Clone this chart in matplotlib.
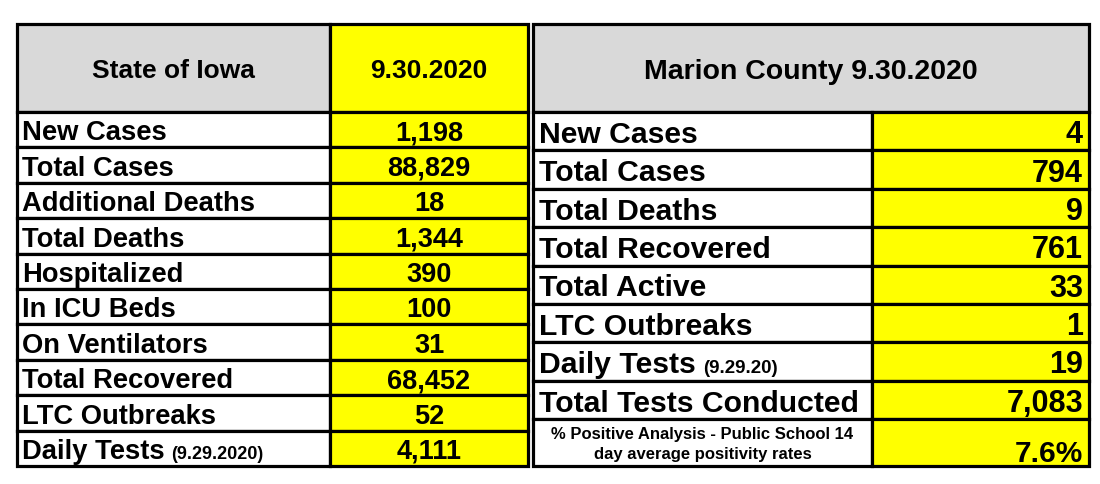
import matplotlib.pyplot as plt
from matplotlib.patches import Rectangle

plt.rcParams['font.family'] = ['Liberation Sans', 'DejaVu Sans']
plt.rcParams['font.weight'] = 'bold'

# State of Iowa table
iowa_title = "State of Iowa"
iowa_date = "9.30.2020"
iowa_labels = ["New Cases", "Total Cases", "Additional Deaths", "Total Deaths",
               "Hospitalized", "In ICU Beds", "On Ventilators", "Total Recovered",
               "LTC Outbreaks", "Daily Tests"]
iowa_notes = ["", "", "", "", "", "", "", "", "", "(9.29.2020)"]
iowa_values = [1198, 88829, 18, 1344, 390, 100, 31, 68452, 52, 4111]

# Marion County table
marion_title = "Marion County 9.30.2020"
marion_labels = ["New Cases", "Total Cases", "Total Deaths", "Total Recovered",
                 "Total Active", "LTC Outbreaks", "Daily Tests",
                 "Total Tests Conducted"]
marion_notes = ["", "", "", "", "", "", "(9.29.20)", ""]
marion_values = [4, 794, 9, 761, 33, 1, 19, 7083]
positivity_label = "% Positive Analysis - Public School 14\nday average positivity rates"
positivity_value = "7.6%"

GRAY = "#d9d9d9"
YELLOW = "#ffff00"
LW = 2.3

fig = plt.figure(figsize=(11, 4.85), dpi=100)
ax = fig.add_axes([0, 0, 1, 1])
ax.set_xlim(0, 1100)
ax.set_ylim(485, 0)
ax.axis('off')
renderer = fig.canvas.get_renderer()


def cell(x0, y0, x1, y1, color):
    ax.add_patch(Rectangle((x0, y0), x1 - x0, y1 - y0, facecolor=color,
                           edgecolor='black', linewidth=LW))


def put(x, yc, s, size, ha, note="", note_size=13):
    # place baseline so that capital letters are centred in the row
    cap = 0.716 * size * 100 / 72
    base = yc + cap / 2
    t = ax.text(x, base, s, fontsize=size, ha=ha, va='baseline')
    if note:
        # axes span the whole figure, so display x == data x
        right = t.get_window_extent(renderer).x1
        ax.text(right + 7, base, note, fontsize=note_size, ha='left', va='baseline')
    return t


# ---- left table ----
lx0, lx1, lx2 = 17, 330, 528
top, hdr = 25, 113
lbot = 467
lrow = (lbot - hdr) / len(iowa_labels)

cell(lx0, top, lx1, hdr, GRAY)
cell(lx1, top, lx2, hdr, YELLOW)
put((lx0 + lx1) / 2, (top + hdr) / 2, iowa_title, 19, 'center')
put((lx1 + lx2) / 2, (top + hdr) / 2, iowa_date, 19, 'center')

for i, (lab, note, val) in enumerate(zip(iowa_labels, iowa_notes, iowa_values)):
    y0 = hdr + i * lrow
    cell(lx0, y0, lx1, y0 + lrow, 'white')
    cell(lx1, y0, lx2, y0 + lrow, YELLOW)
    put(lx0 + 5, y0 + lrow / 2, lab, 19.7, 'left', note, 13)
    put((lx1 + lx2) / 2, y0 + lrow / 2, f"{val:,}", 19.5, 'center')

# ---- right table ----
rx0, rx1, rx2 = 533, 872, 1089
rlast = 420
rrow = (rlast - hdr) / len(marion_labels)

cell(rx0, top, rx2, hdr, GRAY)
put((rx0 + rx2) / 2, (top + hdr) / 2, marion_title, 20.5, 'center')

for i, (lab, note, val) in enumerate(zip(marion_labels, marion_notes, marion_values)):
    y0 = hdr + i * rrow
    cell(rx0, y0, rx1, y0 + rrow, 'white')
    cell(rx1, y0, rx2, y0 + rrow, YELLOW)
    put(rx0 + 6, y0 + rrow / 2, lab, 21.7, 'left', note, 13.5)
    put(rx2 - 6, y0 + rrow / 2, f"{val:,}", 22, 'right')

cell(rx0, rlast, rx1, lbot, 'white')
cell(rx1, rlast, rx2, lbot, YELLOW)
ax.text((rx0 + rx1) / 2, (rlast + lbot) / 2 + 1, positivity_label, fontsize=12,
        ha='center', va='center', linespacing=1.35)
put(rx2 - 6, (rlast + lbot) / 2 + 8, positivity_value, 21.5, 'right')

fig.savefig("out.png", dpi=100)
